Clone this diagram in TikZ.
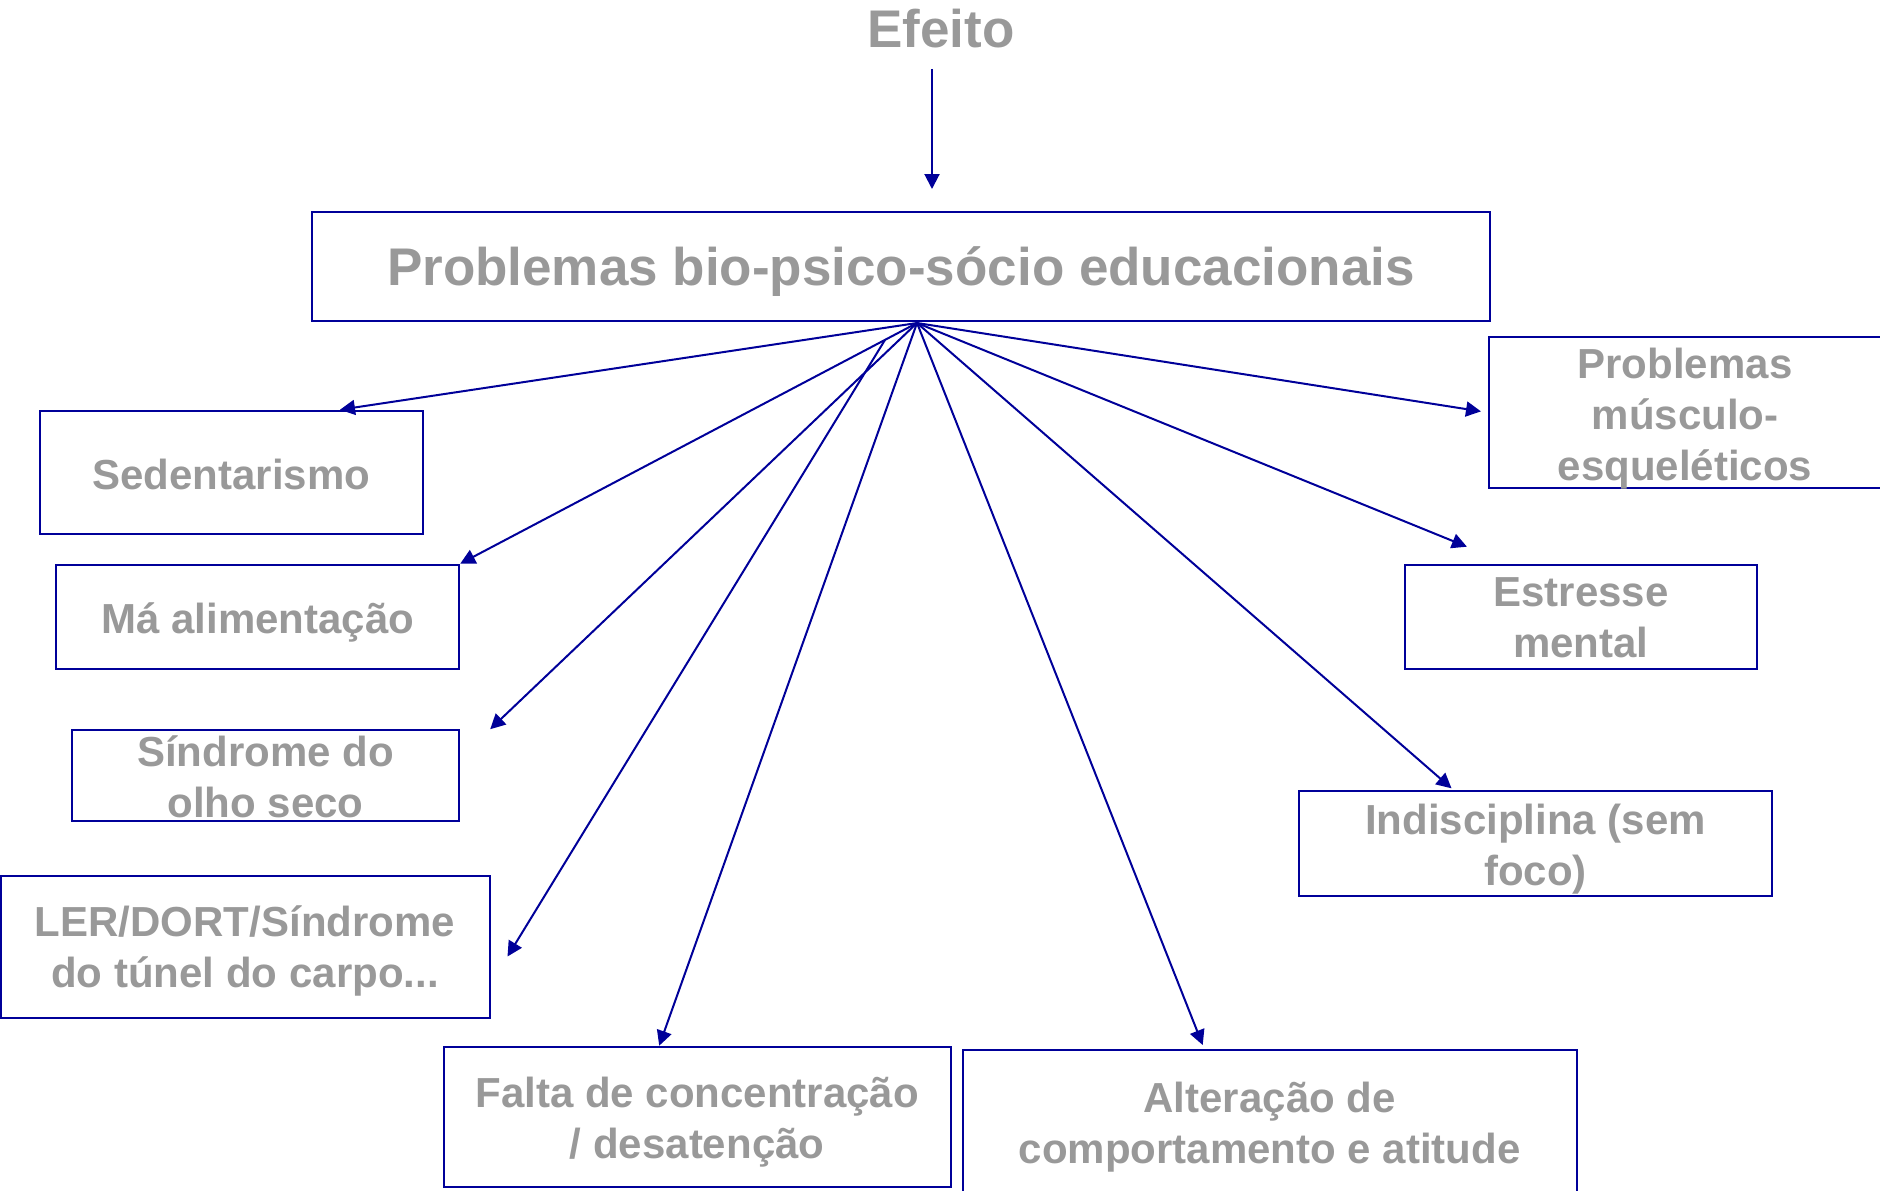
\documentclass[tikz,border=0pt]{standalone}
\usepackage{fontspec}
\setmainfont{Liberation Sans}
\usetikzlibrary{arrows.meta,calc}
\definecolor{navy}{RGB}{0,0,153}
\definecolor{txtgray}{RGB}{153,153,153}
\tikzset{
	box/.style={draw=navy, line width=1pt, inner sep=0pt},
	txt/.style={text=txtgray, align=center, inner sep=0pt,
		font=\bfseries\fontsize{21pt}{25.5pt}\selectfont},
	bigtxt/.style={txt, font=\bfseries\fontsize{26.5pt}{32pt}\selectfont},
	arr/.style={draw=navy, line width=1pt, -{Triangle[length=7.5pt,width=7.5pt]}},
}
\begin{document}
\begin{tikzpicture}[x=0.5pt,y=-0.5pt]
	\useasboundingbox (0,0) rectangle (1880,1190);
	\node[bigtxt, inner sep=2pt] (efeito) at (941,29) {Efeito};
	\node[box, minimum width=589pt, minimum height=54.5pt, label={[bigtxt, yshift=-2.4pt]center:Problemas bio-psico-sócio educacionais}] (main) at (901,266.5) {};
	% left column
	\node[box, minimum width=191.4pt, minimum height=61.7pt, label={[txt, yshift=-1.2pt]center:Sedentarismo}] (sed) at (231.4,472.4) {};
	\node[box, minimum width=201.4pt, minimum height=52.2pt, label={[txt, yshift=-3pt]center:Má alimentação}] (ma) at (257.8,616.9) {};
	\node[box, minimum width=193.6pt, minimum height=45.6pt, label={[txt, yshift=-0.6pt]center:{Síndrome do\\olho seco}}] (syn) at (265.6,775.8) {};
	\node[box, minimum width=244.5pt, minimum height=71pt, label={[txt, yshift=-2.4pt]center:{LER/DORT/Síndrome\\do túnel do carpo...}}] (ler) at (245,946.5) {};
	% bottom row
	\node[box, minimum width=253.6pt, minimum height=70.2pt, label={[txt, yshift=-2.4pt]center:{Falta de concentração\\/ desatenção}}] (falta) at (697.2,1116.9) {};
	\node[box, minimum width=307pt, minimum height=74pt, label={[txt, yshift=-1.8pt]center:{Alteração de\\comportamento e atitude}}] (alt) at (1269.7,1124) {};
	% right column
	\node[box, minimum width=196pt, minimum height=75.7pt, label={[txt, yshift=-3pt]center:{Problemas\\músculo-\\esqueléticos}}] (msk) at (1685,412.4) {};
	\node[box, minimum width=175.7pt, minimum height=52.2pt, label={[txt, yshift=-0.6pt]center:{Estresse\\mental}}] (est) at (1580.9,616.9) {};
	\node[box, minimum width=236.8pt, minimum height=52.2pt, label={[txt, yshift=-3pt]center:{Indisciplina (sem\\foco)}}] (ind) at (1535.5,843.5) {};

	\coordinate (hub) at ([shift={(16,1)}]main.south);
	\draw[arr] ([shift={(-9,16)}]efeito.south) -- ([shift={(31,-22)}]main.north);
	\draw[arr] (hub) -- (sed.30);
	\draw[arr] (hub) -- (ma.north east);
	\draw[arr] (hub) -- ([shift={(30,0)}]syn.north east);
	\draw[arr] ($(hub)!0.07!(ma.north east)$) -- ([shift={(17,10)}]ler.east);
	\draw[arr] (hub) -- ([shift={(-38,0)}]falta.north);
	\draw[arr] (hub) -- ([shift={(-67,-4)}]alt.north);
	\draw[arr] (hub) -- ([shift={(-84,-2)}]ind.north);
	\draw[arr] (hub) -- ([shift={(-114,-17)}]est.north);
	\draw[arr] (hub) -- ([shift={(-7,-1)}]msk.west);
\end{tikzpicture}
\end{document}
